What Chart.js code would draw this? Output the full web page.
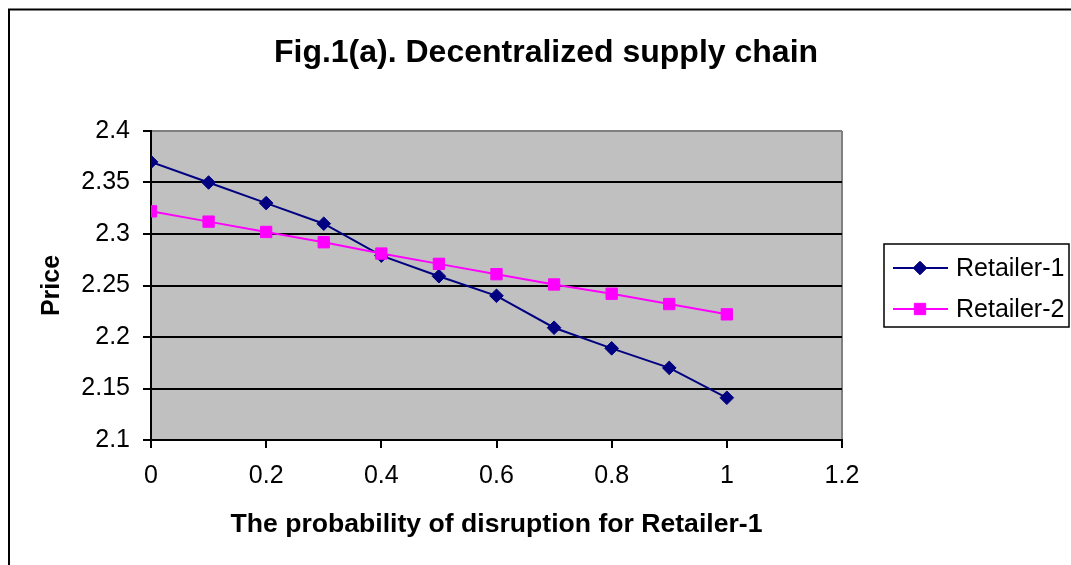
<!DOCTYPE html>
<html>
<head>
<meta charset="utf-8">
<title>Fig.1(a). Decentralized supply chain</title>
<script src="https://cdn.jsdelivr.net/npm/chart.js@4.4.1/dist/chart.umd.min.js"></script>
<style>
  html, body { margin: 0; padding: 0; background: #ffffff; overflow: hidden; }
  #wrap { position: relative; width: 1071px; height: 565px; }
  canvas { display: block; }
</style>
</head>
<body>
<div id="wrap"><canvas id="chart" width="1071" height="565"></canvas></div>
<script>
// Disruption probability for Retailer-1 (x values)
const probabilities = [0, 0.1, 0.2, 0.3, 0.4, 0.5, 0.6, 0.7, 0.8, 0.9, 1.0];
// Retail price of each retailer
const retailer1Price = [2.370, 2.350, 2.330, 2.310, 2.279, 2.259, 2.240, 2.209, 2.189, 2.170, 2.141];
const retailer2Price = [2.322, 2.312, 2.302, 2.292, 2.281, 2.271, 2.261, 2.251, 2.242, 2.232, 2.222];
// Axis tick labels
const xTickLabels = ['0', '0.2', '0.4', '0.6', '0.8', '1', '1.2'];
const yTickLabels = ['2.1', '2.15', '2.2', '2.25', '2.3', '2.35', '2.4'];

const FONT = "'Liberation Sans', Arial, Helvetica, sans-serif";

// Gray plot background, and the outer chart frame
const frame = {
  id: 'frame',
  beforeDraw(chart) {
    const { ctx, chartArea: a } = chart;
    ctx.save();
    ctx.fillStyle = '#ffffff';
    ctx.fillRect(0, 0, chart.width, chart.height);
    ctx.fillStyle = '#c0c0c0';
    ctx.fillRect(a.left, a.top, a.right - a.left, a.bottom - a.top);
    // outer chart border
    ctx.strokeStyle = '#000000';
    ctx.lineWidth = 2;
    ctx.beginPath();
    ctx.moveTo(9, chart.height + 5);
    ctx.lineTo(9, 9.5);
    ctx.lineTo(chart.width + 5, 9.5);
    ctx.stroke();
    ctx.restore();
  }
};

// Chart heading
const heading = {
  id: 'heading',
  afterDraw(chart) {
    const { ctx } = chart;
    ctx.save();
    ctx.font = 'bold 32px ' + FONT;
    ctx.fillStyle = '#000000';
    ctx.textAlign = 'center';
    ctx.textBaseline = 'middle';
    ctx.fillText('Fig.1(a). Decentralized supply chain', 546, 53);
    ctx.restore();
  }
};

// Boxed legend to the right of the plot
const boxLegend = {
  id: 'boxLegend',
  afterDraw(chart) {
    const { ctx } = chart;
    const box = { x: 884, y: 244, w: 185, h: 83 };
    ctx.save();
    ctx.fillStyle = '#ffffff';
    ctx.fillRect(box.x, box.y, box.w, box.h);
    ctx.strokeStyle = '#000000';
    ctx.lineWidth = 1.5;
    ctx.strokeRect(box.x, box.y, box.w, box.h);
    const rows = [268, 309];
    chart.data.datasets.forEach((ds, i) => {
      const y = rows[i];
      ctx.strokeStyle = ds.borderColor;
      ctx.lineWidth = ds.borderWidth;
      ctx.beginPath();
      ctx.moveTo(893, y);
      ctx.lineTo(948, y);
      ctx.stroke();
      ctx.fillStyle = ds.pointBackgroundColor;
      ctx.strokeStyle = ds.pointBorderColor;
      ctx.lineWidth = 1;
      Chart.helpers.drawPoint(ctx, {
        pointStyle: ds.pointStyle,
        radius: ds.pointRadius,
        rotation: 0,
        borderWidth: 1
      }, 920, y);
      ctx.fillStyle = '#000000';
      ctx.font = '25px ' + FONT;
      ctx.textAlign = 'left';
      ctx.textBaseline = 'middle';
      ctx.fillText(ds.label, 956, y + 1);
    });
    ctx.restore();
  }
};

new Chart(document.getElementById('chart'), {
  type: 'line',
  data: {
    datasets: [
      {
        label: 'Retailer-1',
        data: probabilities.map((x, i) => ({ x, y: retailer1Price[i] })),
        borderColor: '#000080',
        backgroundColor: '#000080',
        pointBackgroundColor: '#000080',
        pointBorderColor: '#000080',
        borderWidth: 2,
        pointStyle: 'rectRot',
        pointRadius: 6.8,
        pointBorderWidth: 1,
        tension: 0,
        order: 1
      },
      {
        label: 'Retailer-2',
        data: probabilities.map((x, i) => ({ x, y: retailer2Price[i] })),
        borderColor: '#ff00ff',
        backgroundColor: '#ff00ff',
        pointBackgroundColor: '#ff00ff',
        pointBorderColor: '#ff00ff',
        borderWidth: 2,
        pointStyle: 'rect',
        pointRadius: 8,
        pointBorderWidth: 1,
        tension: 0,
        order: 0
      }
    ]
  },
  options: {
    responsive: false,
    animation: false,
    devicePixelRatio: 1,
    layout: { padding: { top: 131, right: 229, left: 0, bottom: 0 } },
    plugins: {
      legend: { display: false },
      title: { display: false },
      tooltip: { enabled: false }
    },
    scales: {
      x: {
        type: 'linear',
        min: 0,
        max: 1.2,
        afterFit(scale) { scale.height = 125; },
        afterBuildTicks(scale) {
          scale.ticks = xTickLabels.map(t => ({ value: parseFloat(t) }));
        },
        ticks: {
          color: '#000000',
          font: { family: FONT, size: 25 },
          padding: 13,
          maxRotation: 0,
          autoSkip: false,
          callback: (v, i) => xTickLabels[i]
        },
        grid: {
          drawOnChartArea: true,
          color: ctx => (ctx.index === xTickLabels.length - 1 ? '#808080' : 'rgba(0,0,0,0)'),
          lineWidth: 2,
          tickColor: '#000000',
          tickLength: 8,
          tickWidth: 2
        },
        border: { display: true, color: '#000000', width: 2 },
        title: {
          display: true,
          text: 'The probability of disruption for Retailer-1',
          color: '#000000',
          font: { family: FONT, size: 26.6, weight: 'bold' },
          padding: { top: 0, bottom: 24 }
        }
      },
      y: {
        type: 'linear',
        min: 2.1,
        max: 2.4,
        afterFit(scale) { scale.width = 151; },
        afterBuildTicks(scale) {
          scale.ticks = yTickLabels.map(t => ({ value: parseFloat(t) }));
        },
        ticks: {
          color: '#000000',
          font: { family: FONT, size: 25 },
          padding: 13,
          autoSkip: false,
          callback: (v, i) => yTickLabels[i]
        },
        grid: {
          color: ctx => (ctx.index === yTickLabels.length - 1 ? '#808080' : '#000000'),
          lineWidth: 2,
          tickColor: '#000000',
          tickLength: 8,
          tickWidth: 2
        },
        border: { display: true, color: '#000000', width: 2 },
        title: {
          display: true,
          text: 'Price',
          color: '#000000',
          font: { family: FONT, size: 25, weight: 'bold' },
          padding: { top: 37, bottom: 0 }
        }
      }
    }
  },
  plugins: [frame, heading, boxLegend]
});
</script>
</body>
</html>
